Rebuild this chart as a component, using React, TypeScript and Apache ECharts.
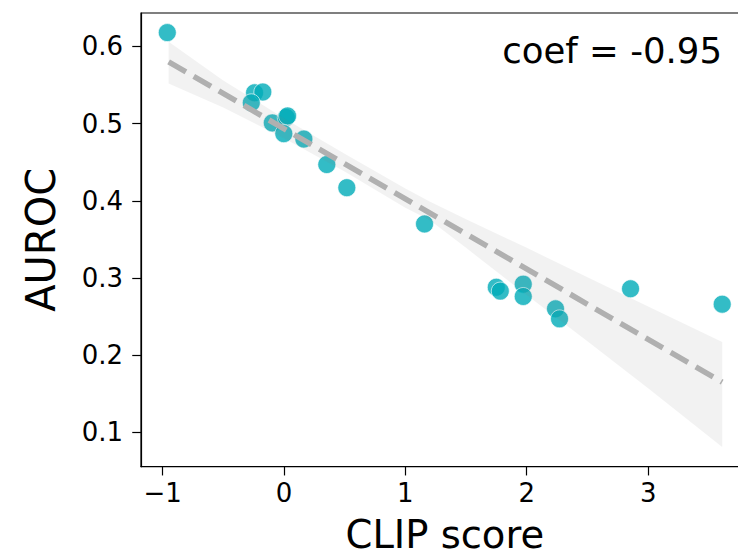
import React, { useEffect, useRef } from "react";
import * as echarts from "echarts";

// Scatter points (CLIP score, AUROC)
const clipScores = [-0.961, -0.242, -0.174, -0.269, -0.096, 0.019, 0.03, -0.001, 0.164, 0.353, 0.518, 1.158, 1.749, 1.782, 1.971, 1.971, 2.237, 2.27, 2.855, 3.61];
const aurocs = [0.618, 0.54, 0.541, 0.527, 0.501, 0.508, 0.51, 0.487, 0.48, 0.447, 0.417, 0.37, 0.288, 0.283, 0.292, 0.276, 0.26, 0.247, 0.286, 0.266];

// Regression line end points
const fitX = [-0.95, 3.61];
const fitY = [0.58, 0.165];

// Confidence band
const bandX = [-0.95, -0.5, 0, 0.5, 1.0, 1.2, 1.5, 2.0, 2.5, 3.0, 3.61];
const bandUpper = [0.606, 0.556, 0.507, 0.461, 0.416, 0.399, 0.376, 0.339, 0.301, 0.263, 0.217];
const bandLower = [0.552, 0.521, 0.481, 0.438, 0.391, 0.375, 0.339, 0.278, 0.218, 0.157, 0.081];

// Ticks
const xTicks = [-1, 0, 1, 2, 3];
const yTicks = [0.1, 0.2, 0.3, 0.4, 0.5, 0.6];

const coefText = "coef = -0.95";
const FONT = '"DejaVu Sans", "Liberation Sans", sans-serif';

export default function App() {
  const ref = useRef<HTMLDivElement>(null);
  useEffect(() => {
    if (!ref.current) return;
    const chart = echarts.init(ref.current, null, { renderer: "svg" });
    chart.setOption({
      animation: false,
      backgroundColor: "#ffffff",
      grid: {
        left: 141,
        top: 13,
        width: 607.6,
        height: 453.7,
        outerBoundsMode: "none",
        containLabel: false,
        show: true,
        borderColor: "#000",
        borderWidth: 1.2,
        backgroundColor: "transparent",
      },
      xAxis: {
        type: "value",
        min: -1.1775,
        max: 3.8275,
        name: "CLIP score",
        nameLocation: "middle",
        nameGap: 51,
        nameTextStyle: { fontFamily: FONT, fontSize: 38.5, color: "#000", lineHeight: 33 },
        splitLine: { show: false },
        axisLine: { show: true, onZero: false, lineStyle: { color: "#000", width: 1.2 } },
        axisTick: { show: true, length: 8.75, customValues: xTicks, lineStyle: { color: "#000", width: 1.2 } },
        axisLabel: {
          customValues: xTicks,
          margin: 13,
          fontFamily: FONT,
          fontSize: 26,
          lineHeight: 26,
          color: "#000",
          formatter: (v: number) => (v < 0 ? "\u2212" + Math.abs(v) : String(v)),
        },
      },
      yAxis: {
        type: "value",
        min: 0.0554,
        max: 0.6434,
        name: "AUROC",
        nameLocation: "middle",
        nameGap: 80,
        nameTextStyle: { fontFamily: FONT, fontSize: 40, color: "#000", lineHeight: 40 },
        splitLine: { show: false },
        axisLine: { show: true, onZero: false, lineStyle: { color: "#000", width: 1.2 } },
        axisTick: { show: true, length: 8.75, customValues: yTicks, lineStyle: { color: "#000", width: 1.2 } },
        axisLabel: {
          customValues: yTicks,
          margin: 18,
          fontFamily: FONT,
          fontSize: 26,
          color: "#000",
          formatter: (v: number) => v.toFixed(1),
        },
      },
      series: [
        {
          type: "scatter",
          z: 2,
          symbolSize: 18,
          data: clipScores.map((x, i) => [x, aurocs[i]]),
          itemStyle: { color: "#00abb8", opacity: 0.8, borderColor: "#ffffff", borderWidth: 0.8 },
        },
        {
          type: "custom",
          z: 3,
          data: [[0, 0.3]],
          renderItem: (_params: any, api: any) => {
            const pts: number[][] = [];
            for (let i = 0; i < bandX.length; i++) pts.push(api.coord([bandX[i], bandUpper[i]]));
            for (let i = bandX.length - 1; i >= 0; i--) pts.push(api.coord([bandX[i], bandLower[i]]));
            return {
              type: "polygon",
              shape: { points: pts },
              style: { fill: "rgba(128,128,128,0.1)", stroke: "none" },
            };
          },
        },
        {
          type: "line",
          z: 4,
          symbol: "none",
          data: fitX.map((x, i) => [x, fitY[i]]),
          lineStyle: { color: "#b0b0b0", width: 5.5, type: [20, 9], cap: "butt" },
        },
      ],
      graphic: [
        {
          type: "text",
          x: 722,
          y: 50,
          z: 10,
          style: {
            text: coefText,
            fontFamily: FONT,
            fontSize: 35.5,
            fill: "#000",
            align: "right",
            verticalAlign: "middle",
          },
        },
      ],
    });
    return () => chart.dispose();
  }, []);
  return (
    <div
      ref={ref}
      style={{ position: "absolute", left: 0, top: 0, width: 738, height: 557 }}
    />
  );
}
